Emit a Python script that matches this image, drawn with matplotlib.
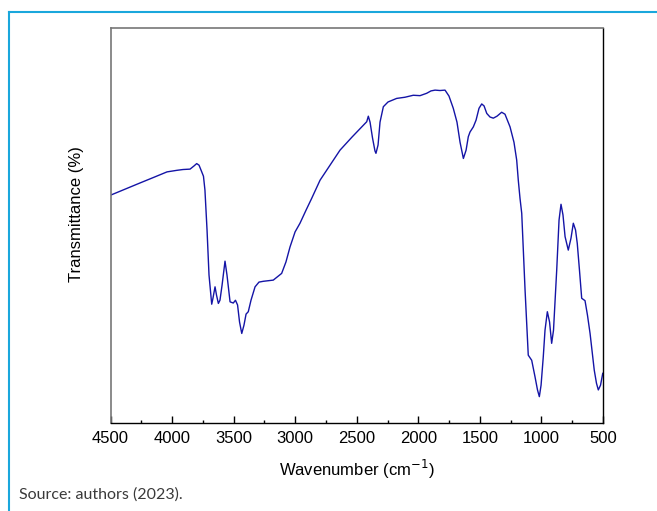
import numpy as np
import matplotlib
matplotlib.use("Agg")
from matplotlib import pyplot as plt
from matplotlib.lines import Line2D
from matplotlib.ticker import MultipleLocator

# FTIR spectrum (wavenumber in cm-1, transmittance in %)
wavenumber = [4500, 4260, 4150, 4041, 3960, 3911, 3854, 3822, 3800, 3781, 3759, 3745,
              3733, 3716, 3700, 3678, 3668, 3651, 3639, 3624, 3611, 3594,
              3570, 3554, 3529, 3503, 3485, 3468, 3452, 3434, 3416, 3399,
              3381, 3359, 3326, 3294, 3259, 3178, 3110, 3075, 3042, 3001,
              2961, 2912, 2866, 2798, 2717, 2636, 2539, 2419, 2406, 2392,
              2372, 2352, 2344, 2327, 2311, 2284, 2246, 2176, 2108, 2041,
              1986, 1932, 1897, 1864, 1824, 1783, 1751, 1716, 1686, 1661,
              1634, 1612, 1594, 1580, 1553, 1531, 1507, 1485, 1466, 1444,
              1418, 1391, 1361, 1323, 1296, 1255, 1223, 1201, 1188, 1174,
              1160, 1133, 1107, 1079, 1052, 1032, 1017, 1003, 985, 971,
              952, 934, 917, 902, 876, 857, 841, 825, 808, 782,
              760, 741, 723, 709, 691, 673, 646, 626, 605, 571,
              553, 538, 520, 502]
transmittance = [57.7, 60.8, 62.2, 63.6, 64.0, 64.2, 64.3, 65.1, 65.7, 65.3, 63.6, 62.5,
                 59.0, 48.9, 37.5, 30.1, 31.6, 34.5, 32.4, 30.3, 31.1, 34.9,
                 41.0, 37.5, 30.7, 30.4, 31.1, 29.9, 25.6, 22.7, 24.8, 27.6,
                 28.2, 31.1, 34.5, 35.7, 35.9, 36.2, 37.9, 40.8, 44.6, 48.4,
                 50.6, 53.9, 56.9, 61.5, 65.3, 69.1, 72.4, 76.3, 77.7, 76.2,
                 72.2, 68.9, 68.3, 70.4, 76.2, 80.1, 81.3, 82.2, 82.5, 83.0,
                 82.9, 83.5, 84.1, 84.3, 84.2, 84.3, 82.8, 79.7, 76.2, 71.1,
                 67.0, 69.1, 72.5, 73.7, 75.0, 76.7, 79.7, 80.8, 80.3, 78.4,
                 77.5, 77.2, 77.7, 78.7, 78.2, 75.0, 71.1, 66.6, 61.5, 56.9,
                 53.1, 33.7, 17.2, 15.9, 11.7, 8.4, 6.7, 9.6, 16.8, 23.5,
                 28.2, 25.6, 20.2, 23.5, 38.7, 51.4, 55.4, 52.7, 47.2, 43.8,
                 46.8, 50.6, 48.9, 45.5, 38.7, 31.6, 31.0, 27.3, 22.7, 13.4,
                 10.1, 8.4, 9.6, 12.6]

plt.rcParams['font.family'] = ['Liberation Sans', 'DejaVu Sans']

fig = plt.figure(figsize=(6.57, 5.11), dpi=100)
ax = fig.add_axes([0.1682, 0.172, 0.7496, 0.773])

ax.plot(wavenumber, transmittance, color='#1414a6', lw=1.0)

ax.set_xlim(4500, 500)
ax.set_ylim(0, 100)
ax.xaxis.set_major_locator(MultipleLocator(500))
ax.xaxis.set_minor_locator(MultipleLocator(250))
ax.tick_params(axis='x', which='major', direction='in', length=5, width=1,
               labelsize=12, pad=6)
ax.tick_params(axis='x', which='minor', direction='in', length=2.5, width=1)
ax.set_yticks([])

for side in ['top', 'left']:
    ax.spines[side].set_color('#777777')
    ax.spines[side].set_linewidth(1.2)
for side in ['bottom', 'right']:
    ax.spines[side].set_color('black')
    ax.spines[side].set_linewidth(1.0)

ax.set_xlabel('Wavenumber (cm$^{-1}$)', fontsize=12, labelpad=8)
ax.set_ylabel('Transmittance (%)', fontsize=12)
ax.yaxis.set_label_coords(-0.054, 0.53)

# cyan frame on top and left
frame = '#1aa7dc'
fig.add_artist(Line2D([9 / 657, 1], [1 - 12.5 / 511, 1 - 12.5 / 511],
                      color=frame, lw=1.5, transform=fig.transFigure))
fig.add_artist(Line2D([9 / 657, 9 / 657], [0, 1 - 12.5 / 511],
                      color=frame, lw=1.5, transform=fig.transFigure))

fig.text(19 / 657, 1 - 495 / 511, 'Source: authors (2023).', fontsize=11.5,
         family=['Lato', 'DejaVu Sans'], color='#3a3a3a',
         va='center', ha='left')

fig.savefig('out.png', dpi=100)
